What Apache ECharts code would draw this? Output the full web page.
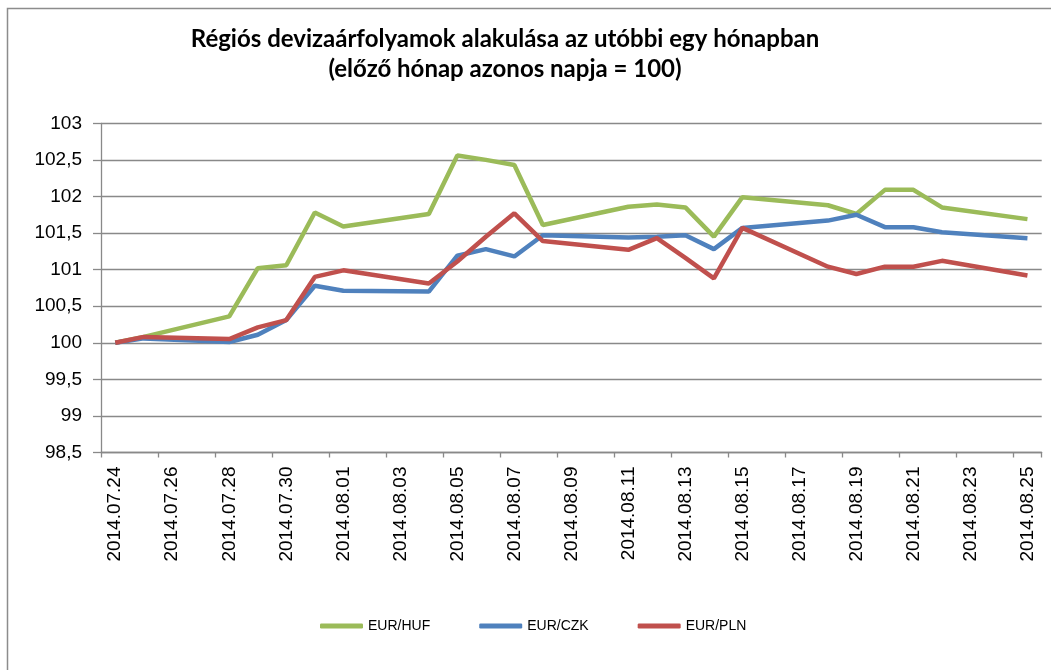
<!DOCTYPE html>
<html>
<head>
<meta charset="utf-8">
<script src="https://cdn.jsdelivr.net/npm/echarts@6/dist/echarts.min.js"></script>
<style>
html,body{margin:0;padding:0;background:#fff;}
#chart{width:1051px;height:670px;}
</style>
</head>
<body>
<div id="chart"></div>
<script>
const dates = ['2014.07.24','2014.07.25','2014.07.26','2014.07.27','2014.07.28','2014.07.29','2014.07.30','2014.07.31',
'2014.08.01','2014.08.02','2014.08.03','2014.08.04','2014.08.05','2014.08.06','2014.08.07','2014.08.08',
'2014.08.09','2014.08.10','2014.08.11','2014.08.12','2014.08.13','2014.08.14','2014.08.15','2014.08.16',
'2014.08.17','2014.08.18','2014.08.19','2014.08.20','2014.08.21','2014.08.22','2014.08.23','2014.08.24','2014.08.25'];

const eurHuf = [100, 100.08, null, null, 100.36, 101.02, 101.06, 101.78, 101.59, null, null, 101.76, 102.56, 102.50, 102.43, 101.61,
 null, null, 101.86, 101.89, 101.85, 101.45, 101.99, null, null, 101.88, 101.76, 102.09, 102.09, 101.85, null, null, 101.69];
const eurCzk = [100, 100.06, null, null, 100.01, 100.11, 100.31, 100.78, 100.71, null, null, 100.70, 101.19, 101.28, 101.18, 101.47,
 null, null, 101.44, 101.45, 101.47, 101.28, 101.57, null, null, 101.67, 101.75, 101.58, 101.58, 101.51, null, null, 101.43];
const eurPln = [100, 100.08, null, null, 100.05, 100.21, 100.31, 100.90, 100.99, null, null, 100.81, 101.11, 101.45, 101.77, 101.39,
 null, null, 101.27, 101.43, 101.16, 100.88, 101.57, null, null, 101.04, 100.94, 101.04, 101.04, 101.12, null, null, 100.92];

const seriesNames = ['EUR/HUF', 'EUR/CZK', 'EUR/PLN'];
const titleText = 'Régiós devizaárfolyamok alakulása az utóbbi egy hónapban\n(előző hónap azonos napja = 100)';

const chart = echarts.init(document.getElementById('chart'), null, {renderer: 'canvas'});
const gridColor = '#898989';
function mk(name, data, color) {
  return {
    name: name, type: 'line', data: data, connectNulls: true, showSymbol: false, symbol: 'none',
    lineStyle: {width: 4.5, color: color}, itemStyle: {color: color}, animation: false
  };
}
chart.setOption({
  backgroundColor: '#fff',
  animation: false,
  title: {
    text: titleText, left: 505, textAlign: 'center', top: 24, padding: 0,
    textStyle: {fontFamily: 'Lato', fontWeight: 'bold', fontSize: 24, lineHeight: 30, color: '#000'}
  },
  graphic: [{
    type: 'rect', silent: true,
    shape: {x: 7.5, y: 8.5, width: 1100, height: 700},
    style: {fill: 'none', stroke: '#8c8c8c', lineWidth: 1.5}
  }],
  grid: {left: 101, top: 123.3, right: 9.3, bottom: 217.5, containLabel: false},
  legend: {
    data: seriesNames, left: 320, top: 619, padding: 0, icon: 'roundRect', itemWidth: 43, itemHeight: 5, itemGap: 49,
    textStyle: {fontFamily: 'Liberation Sans', fontSize: 14, color: '#000'}
  },
  xAxis: {
    type: 'category', data: dates, boundaryGap: true,
    axisLine: {lineStyle: {color: gridColor, width: 1.3}},
    axisTick: {show: true, interval: 1, length: 5, lineStyle: {color: gridColor, width: 1.3}},
    axisLabel: {interval: 1, rotate: 90, margin: 14, fontFamily: 'Liberation Sans', fontSize: 19, color: '#000'},
    splitLine: {show: false}
  },
  yAxis: {
    type: 'value', min: 98.5, max: 103, interval: 0.5,
    axisLine: {show: true, lineStyle: {color: gridColor, width: 1.3}},
    axisTick: {show: true, length: 8, lineStyle: {color: gridColor, width: 1.3}},
    axisLabel: {margin: 19, fontFamily: 'Liberation Sans', fontSize: 19, color: '#000',
      formatter: v => String(Math.round(v * 10) / 10).replace('.', ',')},
    splitLine: {show: true, lineStyle: {color: gridColor, width: 1.3}}
  },
  series: [mk(seriesNames[0], eurHuf, '#9BBB59'), mk(seriesNames[1], eurCzk, '#4F81BD'), mk(seriesNames[2], eurPln, '#C0504D')]
});
</script>
</body>
</html>
